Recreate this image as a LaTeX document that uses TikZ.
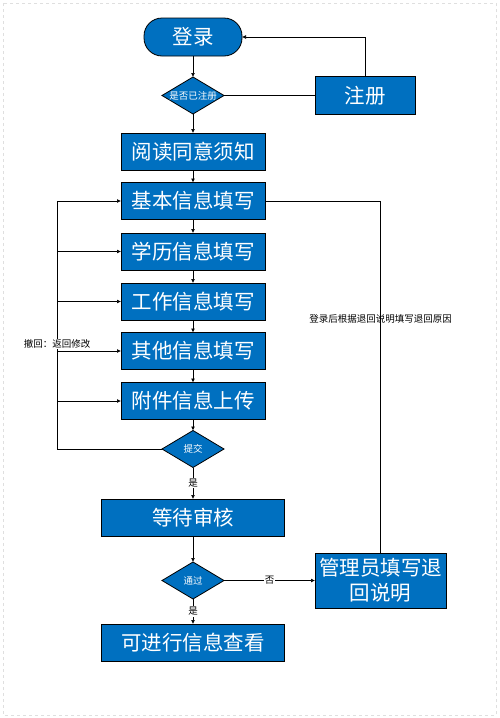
\documentclass[tikz,border=0pt]{standalone}
\usepackage{fontspec}
\setmainfont{Noto Sans CJK SC}
\usetikzlibrary{shapes.geometric, arrows.meta, positioning}
\definecolor{flowblue}{RGB}{0,112,192}

\begin{document}
\begin{tikzpicture}[
    x=1pt, y=1pt, node distance=12.5pt,
    terminal/.style={rectangle, draw, line width=0.8pt, outer sep=0pt, fill=flowblue, text=white, rounded corners=18pt, minimum width=98pt, minimum height=38pt, font=\fontsize{20.5}{25}\selectfont},
    process/.style={rectangle, draw, line width=0.8pt, outer sep=0pt, fill=flowblue, text=white, inner sep=0pt, minimum width=144pt, minimum height=37pt, font=\fontsize{20.5}{25}\selectfont},
    decision/.style={diamond, draw, line width=0.8pt, outer sep=0pt, fill=flowblue, text=white, inner sep=0pt, minimum width=62pt, minimum height=37pt, font=\fontsize{9.5}{11}\selectfont},
    note/.style={font=\fontsize{9.5}{11}\selectfont, inner sep=1pt},
    arrow/.style={-{Latex[length=4pt, width=4pt]}, line width=0.7pt},
    line/.style={line width=0.7pt}
]
    \useasboundingbox (0,0) rectangle (499,-718);
    \draw[gray!25, dashed] (3,-3) rectangle (496,-715);

    \node[terminal] (login) at (193,-37) {登录};
    \node[decision, below=21pt of login] (registered) {\makebox[0pt]{是否已注册}};
    \node[process, below=19pt of registered] (notice) {阅读同意须知};
    \node[process, below=of notice] (basic) {基本信息填写};
    \node[process, below=13.5pt of basic] (edu) {学历信息填写};
    \node[process, below=13pt of edu] (work) {工作信息填写};
    \node[process, below=of work] (other) {其他信息填写};
    \node[process, below=13pt of other] (attach) {附件信息上传};
    \node[decision, below=11pt of attach] (submit) {提交};
    \node[process, minimum width=183pt, below=31.5pt of submit] (wait) {等待审核};
    \node[decision, below=26pt of wait] (pass) {通过};
    \node[process, minimum width=183pt, below=25pt of pass] (view) {可进行信息查看};
    \node[process, minimum width=100pt, minimum height=38pt, right=91pt of registered] (signup) {注册};
    \node[process, minimum width=131pt, minimum height=55pt, align=center, right=91pt of pass] (reject) {管理员填写退\\回说明};

    \draw[arrow] (login) -- (registered);
    \draw[arrow] (registered) -- (notice);
    \draw[arrow] (notice) -- (basic);
    \draw[arrow] (basic) -- (edu);
    \draw[arrow] (edu) -- (work);
    \draw[arrow] (work) -- (other);
    \draw[arrow] (other) -- (attach);
    \draw[arrow] (attach) -- (submit);
    \draw[line] (registered) -- (signup);
    \draw[arrow] (signup.north) |- (login.east);

    \draw[arrow] (submit) -- node[note, fill=white] {是} (wait);
    \draw[arrow] (wait) -- (pass);
    \draw[arrow] (pass) -- node[note, fill=white] {是} (view);
    \draw[arrow] (pass) -- node[note, fill=white] {否} (reject);
    \draw[line] (reject.north) |- node[note, pos=0.333] {登录后根据退回说明填写退回原因} (basic.east);

    % loop back for corrections
    \coordinate (back) at ([xshift=-105pt]submit.west);
    \draw[arrow] (submit.west) -- (back) |- (basic.west);
    \foreach \stage in {edu, work, other, attach}
        \draw[arrow] (back |- \stage.west) -- (\stage.west);
    \node[note, fill=white] at (back |- 0,-344) {撤回：返回修改};

\end{tikzpicture}
\end{document}
